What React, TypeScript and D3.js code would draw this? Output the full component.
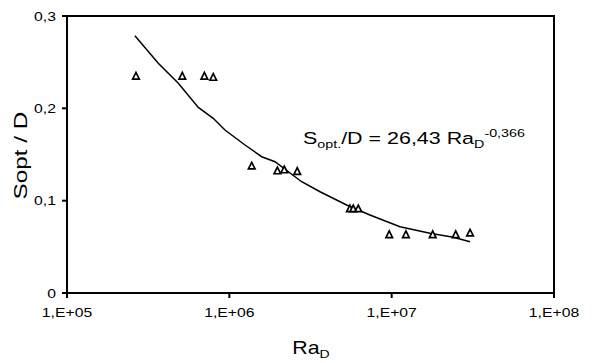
import React from "react";
import * as d3 from "d3";

const raD: number[] = [2.66e5, 5.13e5, 7.02e5, 7.96e5, 1.374e6, 1.977e6, 2.18e6, 2.62e6, 5.53e6, 5.8e6, 6.23e6, 9.66e6, 1.224e7, 1.79e7, 2.48e7, 3.04e7];
const sOptD: number[] = [0.2353, 0.2353, 0.2353, 0.234, 0.1379, 0.1327, 0.1338, 0.1321, 0.0917, 0.0917, 0.0917, 0.0636, 0.0636, 0.0636, 0.0636, 0.0654];

const trendX: number[] = [2.62e5, 3.65e5, 4.85e5, 6.44e5, 7.96e5, 9.4e5, 1.249e6, 1.583e6, 1.911e6, 2.79e6, 3.62e6, 5.28e6, 7.35e6, 1.125e7, 1.722e7, 2.4e7, 3.04e7];
const trendY: number[] = [0.2787, 0.2488, 0.2271, 0.201, 0.1892, 0.1765, 0.1603, 0.1476, 0.1422, 0.1205, 0.1097, 0.0953, 0.0845, 0.0718, 0.0647, 0.0603, 0.0556];

const xTicks: number[] = [1e5, 1e6, 1e7, 1e8];
const xTickLabels: string[] = ["1,E+05", "1,E+06", "1,E+07", "1,E+08"];
const yTicks: number[] = [0, 0.1, 0.2, 0.3];
const yTickLabels: string[] = ["0", "0,1", "0,2", "0,3"];

export default function App() {
  const W = 608, H = 363;
  const left = 67, right = 554, top = 16, bottom = 293;
  const x = d3.scaleLog().domain([1e5, 1e8]).range([left, right]);
  const y = d3.scaleLinear().domain([0, 0.3]).range([bottom, top]);
  const line = d3.line<number>().x((_, i) => x(trendX[i])).y((d) => y(d));
  const font = "'Liberation Sans', Arial, sans-serif";
  const tri = (cx: number, cy: number) => {
    const s = 3.3;
    return `M${cx},${cy - s}L${cx + s},${cy + s}L${cx - s},${cy + s}Z`;
  };
  const sx = 1.26;
  return (
    <svg width={W} height={H} style={{ position: "absolute", left: 0, top: 0 }} fontFamily={font}>
      <rect x={0} y={0} width={W} height={H} fill="#fff" />
      <path d={line(trendY) || ""} fill="none" stroke="#000" strokeWidth={1.5} />
      {raD.map((v, i) => (
        <path key={i} d={tri(x(v), y(sOptD[i]))} fill="#fff" stroke="#000" strokeWidth={1.7} strokeLinejoin="miter" />
      ))}
      <rect x={left} y={top} width={right - left} height={bottom - top} fill="none" stroke="#000" strokeWidth={2} />
      {xTicks.map((t, i) => (
        <g key={"x" + i}>
          <line x1={x(t)} x2={x(t)} y1={bottom} y2={bottom + 5} stroke="#000" strokeWidth={2} />
          <text transform={`translate(${x(t)},${bottom + 24}) scale(${sx},1)`} fontSize={12.5} textAnchor="middle" fill="#000">{xTickLabels[i]}</text>
        </g>
      ))}
      {yTicks.map((t, i) => (
        <g key={"y" + i}>
          <line x1={left - 5} x2={left} y1={y(t)} y2={y(t)} stroke="#000" strokeWidth={2} />
          <text transform={`translate(56,${y(t) + 4.5}) scale(${sx},1)`} fontSize={12.5} textAnchor="end" fill="#000">{yTickLabels[i]}</text>
        </g>
      ))}
      <text transform={`translate(27,${(top + bottom) / 2 + 1}) rotate(-90) scale(1.28,1)`} fontSize={19} textAnchor="middle" fill="#000">Sopt / D</text>
      <text transform={`translate(311,354) scale(1.22,1)`} fontSize={17.5} textAnchor="middle" fill="#000">
        Ra<tspan fontSize={11.5} dy={4}>D</tspan>
      </text>
      <text transform={`translate(303,144) scale(1.3,1)`} fontSize={16.5} fill="#000">
        S<tspan fontSize={11} dy={4}>opt.</tspan><tspan dy={-4}>/D = 26,43 Ra</tspan><tspan fontSize={11} dy={4}>D</tspan><tspan fontSize={11} dy={-11}>-0,366</tspan>
      </text>
    </svg>
  );
}
